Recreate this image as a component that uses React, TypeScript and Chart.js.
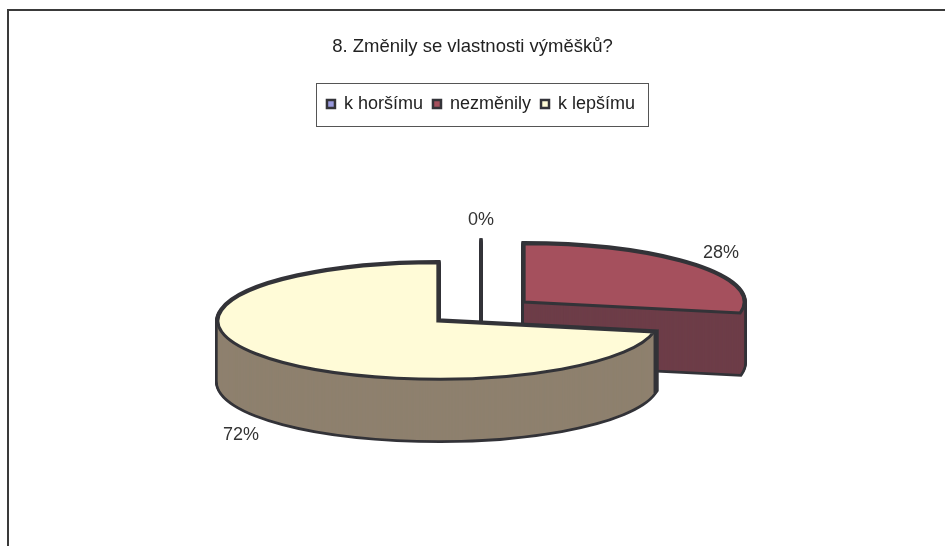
import React, { useEffect, useRef } from 'react';
import { Chart, registerables } from 'chart.js';

Chart.register(...registerables);

const TITLE = '8. Změnily se vlastnosti výměšků?';
const CATEGORIES = ['k horšímu', 'nezměnily', 'k lepšímu'];
const VALUES = [0, 28, 72];
const TOP_COLORS = ['#9999DD', '#A5505D', '#FFFBD7'];
const SIDE_COLORS = ['#5F5F9E', '#6D3D48', '#8E806E'];
const OUTLINE = '#333338';
const FONT = '"Liberation Sans", Arial, sans-serif';

const pie3d = {
  id: 'pie3d',
  beforeDatasetsDraw(chart: any, _args: any, opts: any) {
    const ctx: CanvasRenderingContext2D = chart.ctx;
    const meta = chart.getDatasetMeta(0);
    const values: number[] = chart.data.datasets[0].data;
    const total = values.reduce((a, b) => a + b, 0);
    const { tilt, depth, explode, lineWidth, edgeWidth, lineColor } = opts;
    const slices = meta.data.map((el: any, i: number) => {
      const p = el.getProps(['x', 'y', 'startAngle', 'endAngle', 'outerRadius'], true);
      const mid = (p.startAngle + p.endAngle) / 2;
      return {
        i,
        cx: p.x + Math.cos(mid) * explode,
        cy: p.y + Math.sin(mid) * explode * tilt,
        r: p.outerRadius,
        s: p.startAngle,
        e: p.endAngle,
        mid,
      };
    });
    const order = [...slices].sort((a, b) => a.cy - b.cy);
    const path = (sl: any, dy: number) => {
      ctx.beginPath();
      ctx.moveTo(sl.cx, sl.cy + dy);
      if (sl.e - sl.s > 1e-6) {
        ctx.ellipse(sl.cx, sl.cy + dy, sl.r, sl.r * tilt, 0, sl.s, sl.e);
      } else {
        ctx.lineTo(sl.cx + sl.r * Math.cos(sl.s), sl.cy + dy + sl.r * tilt * Math.sin(sl.s));
      }
      ctx.closePath();
    };
    ctx.save();
    ctx.strokeStyle = lineColor;
    ctx.lineJoin = 'miter';
    ctx.miterLimit = 4;
    for (const sl of order) {
      ctx.lineWidth = sl.e - sl.s > 1e-6 ? edgeWidth : lineWidth;
      for (let d = depth; d >= 0; d--) {
        path(sl, d);
        ctx.stroke();
      }
      ctx.fillStyle = SIDE_COLORS[sl.i];
      for (let d = depth; d >= 0; d--) {
        path(sl, d);
        ctx.fill();
      }
    }
    ctx.lineWidth = lineWidth;
    for (const sl of order) {
      path(sl, 0);
      ctx.fillStyle = TOP_COLORS[sl.i];
      ctx.fill();
      ctx.stroke();
    }
    // percentage labels
    ctx.font = `18px ${FONT}`;
    ctx.fillStyle = '#333';
    ctx.textAlign = 'center';
    ctx.textBaseline = 'middle';
    for (const sl of slices) {
      const txt = Math.round((values[sl.i] / total) * 100) + '%';
      const hw = ctx.measureText(txt).width / 2;
      const hh = 7;
      const c = Math.cos(sl.mid);
      const s = Math.sin(sl.mid);
      const lx = sl.cx + c * sl.r * 1.08 + c * hw;
      const ly = sl.cy + s * sl.r * tilt * 1.2 + s * hh + (s > 0.05 ? depth + 4 : 0);
      ctx.fillText(txt, lx, ly);
    }
    ctx.restore();
    return false;
  },
  afterDraw(chart: any) {
    const ctx: CanvasRenderingContext2D = chart.ctx;
    ctx.save();
    // title
    ctx.font = `18.5px ${FONT}`;
    ctx.fillStyle = '#222';
    ctx.textAlign = 'center';
    ctx.textBaseline = 'alphabetic';
    ctx.fillText(TITLE, chart.width / 2, 52);
    // legend frame
    const hb = chart.legend?.legendHitBoxes || [];
    if (hb.length) {
      let l = Infinity, t = Infinity, r = -Infinity, b = -Infinity;
      for (const h of hb) {
        l = Math.min(l, h.left);
        t = Math.min(t, h.top);
        r = Math.max(r, h.left + h.width);
        b = Math.max(b, h.top + h.height);
      }
      ctx.strokeStyle = '#555';
      ctx.lineWidth = 1;
      ctx.strokeRect(Math.round(l - 11) + 0.5, Math.round(t - 12) + 0.5, Math.round(r - l + 24), Math.round(b - t + 25));
    }
    ctx.restore();
  },
};

export default function App() {
  const ref = useRef<HTMLCanvasElement>(null);
  useEffect(() => {
    const chart = new Chart(ref.current as HTMLCanvasElement, {
      type: 'pie',
      data: {
        labels: CATEGORIES,
        datasets: [
          {
            data: VALUES,
            backgroundColor: TOP_COLORS,
            borderColor: OUTLINE,
            borderWidth: 2.5,
          } as any,
        ],
      },
      options: {
        responsive: false,
        animation: false,
        radius: 220,
        layout: { padding: { top: 85, left: 17, right: 0, bottom: 46 } },
        plugins: {
          legend: {
            position: 'top',
            labels: {
              boxWidth: 8,
              boxHeight: 8,
              padding: 10,
              color: '#222',
              font: { family: FONT, size: 18 },
            },
          },
          title: { display: false },
          tooltip: { enabled: false },
          pie3d: { tilt: 0.265, depth: 61, explode: 56, lineWidth: 3, edgeWidth: 5.5, lineColor: OUTLINE },
        } as any,
      } as any,
      plugins: [pie3d as any],
    });
    return () => chart.destroy();
  }, []);
  return (
    <div style={{ position: 'fixed', left: 0, top: 0, width: 945, height: 546, background: '#fff', overflow: 'hidden' }}>
      <canvas ref={ref} width={945} height={546} style={{ position: 'absolute', left: 0, top: 0 }} />
      <div
        style={{
          position: 'absolute',
          left: 7,
          top: 9,
          width: 1000,
          height: 1000,
          borderTop: '2px solid #3a3a3a',
          borderLeft: '2px solid #3a3a3a',
          pointerEvents: 'none',
        }}
      />
    </div>
  );
}
